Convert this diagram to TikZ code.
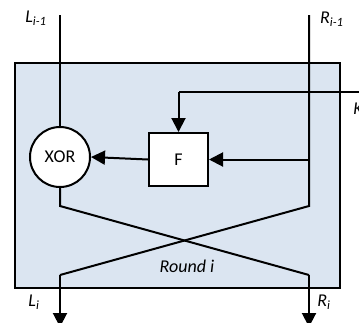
\documentclass[tikz,border=0pt]{standalone}
\usepackage{fontspec}
\setmainfont{Carlito}
\usetikzlibrary{arrows.meta}
\definecolor{roundfill}{RGB}{219,229,241}
\tikzset{
  wire/.style={line width=1.5pt, black},
  flow/.style={wire, -{Triangle[length=10.5pt,width=10.5pt]}},
  lbl/.style={font=\fontsize{13.5}{15}\selectfont\itshape, inner sep=0pt},
}
\begin{document}
\begin{tikzpicture}[x=0.75pt,y=-0.75pt]
\useasboundingbox (0,0) rectangle (359,322);
\node[draw, line width=1.5pt, fill=roundfill, minimum width=325*0.75pt, minimum height=225*0.75pt, inner sep=0pt, anchor=north west] (box) at (14,62) {};
\node[circle, draw, wire, fill=white, minimum size=60*0.75pt, inner sep=0pt, font=\fontsize{13.5}{15}\selectfont] (xor) at (60,157) {XOR};
\node[rectangle, draw, wire, fill=white, minimum width=59*0.75pt, minimum height=53*0.75pt, inner sep=0pt, font=\fontsize{13.5}{15}\selectfont] (f) at (178.5,159.5) {F};
\coordinate (ltop) at (60,15);
\coordinate (rtop) at (309,15);
\coordinate (rbend) at (309,206);
\coordinate (rtap) at (309,159.5);
\coordinate (lbend) at (60,206);
\coordinate (lcross) at (60,275);
\coordinate (rcross) at (309,275);
\coordinate (lout) at (60,327);
\coordinate (rout) at (309,327);
\coordinate (kin) at (362,92);
\coordinate (kbend) at (178.5,92);
\draw[wire] (ltop) -- (xor.north);
\draw[wire] (rtop) -- (rbend) -- (lcross);
\draw[flow] (lcross) -- (lout);
\draw[wire] (xor.south) -- (lbend) -- (rcross);
\draw[flow] (rcross) -- (rout);
\draw[flow] (rtap) -- (f.east);
\draw[flow] (f.west) -- (xor.east);
\draw[wire] (kin) -- (kbend);
\draw[flow] (kbend) -- (f.north);
\node[lbl] (lin) at (36,18) {L\textsubscript{i-1}};
\node[lbl] (rin) at (332,19) {R\textsubscript{i-1}};
\node[lbl, anchor=west] (kl) at (353,110) {K\textsubscript{i}};
\node[lbl] (lo) at (34,302) {L\textsubscript{i}};
\node[lbl] (ro) at (324,302) {R\textsubscript{i}};
\node[lbl] (rnd) at (187,266) {Round i};
\end{tikzpicture}
\end{document}
